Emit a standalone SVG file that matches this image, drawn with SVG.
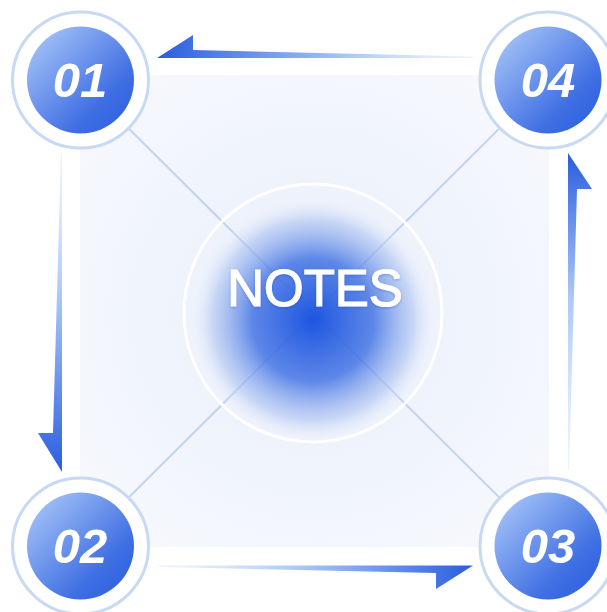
<svg xmlns="http://www.w3.org/2000/svg" width="607" height="612" viewBox="0 0 607 612">
<style>
.ring{fill:#ffffff;stroke:#c8d9f4;stroke-width:3}
.num{font-family:"Liberation Sans",Arial,sans-serif;font-weight:bold;font-style:italic;font-size:49px;fill:#ffffff;text-anchor:middle}
.diag{stroke:#c2d3f0;stroke-width:2;fill:none}
</style>
<defs>
<radialGradient id="panelG" cx="50%" cy="50%" r="60%">
<stop offset="0" stop-color="#e8eefa"/>
<stop offset="1" stop-color="#f6f8fd"/>
</radialGradient>
<linearGradient id="ballG" x1="0" y1="0" x2="1" y2="1">
<stop offset="0" stop-color="#b2cdfa"/>
<stop offset="0.7" stop-color="#3f6fe3"/>
<stop offset="1" stop-color="#2a5bde"/>
</linearGradient>
<radialGradient id="glowG" cx="313" cy="320" r="122" gradientUnits="userSpaceOnUse">
<stop offset="0" stop-color="#1c55df"/>
<stop offset="0.5" stop-color="#4474e4" stop-opacity="0.85"/>
<stop offset="0.82" stop-color="#a7bff0" stop-opacity="0.55"/>
<stop offset="1" stop-color="#e8eefa" stop-opacity="0"/>
</radialGradient>
<linearGradient id="arrTop" x1="157" y1="0" x2="473" y2="0" gradientUnits="userSpaceOnUse">
<stop offset="0" stop-color="#2a5ddf"/>
<stop offset="0.6" stop-color="#a9c6f7"/>
<stop offset="1" stop-color="#d6e4fb" stop-opacity="0.4"/>
</linearGradient>
<linearGradient id="arrLeft" x1="0" y1="153" x2="0" y2="472" gradientUnits="userSpaceOnUse">
<stop offset="0" stop-color="#d6e4fb" stop-opacity="0.4"/>
<stop offset="0.45" stop-color="#aac7f8"/>
<stop offset="1" stop-color="#2a5ddf"/>
</linearGradient>
<linearGradient id="arrRight" x1="0" y1="153" x2="0" y2="470" gradientUnits="userSpaceOnUse">
<stop offset="0" stop-color="#2a5ddf"/>
<stop offset="0.45" stop-color="#aac7f8"/>
<stop offset="1" stop-color="#d6e4fb" stop-opacity="0.4"/>
</linearGradient>
<linearGradient id="arrBot" x1="158" y1="0" x2="473" y2="0" gradientUnits="userSpaceOnUse">
<stop offset="0" stop-color="#d6e4fb" stop-opacity="0.4"/>
<stop offset="0.45" stop-color="#aac7f8"/>
<stop offset="1" stop-color="#2a5ddf"/>
</linearGradient>
<filter id="ts" x="-10%" y="-20%" width="120%" height="140%">
<feDropShadow dx="0" dy="1" stdDeviation="1.2" flood-color="#1a3f9a" flood-opacity="0.35"/>
</filter>
</defs>
<rect width="607" height="612" fill="#ffffff"/>
<rect x="80" y="75" width="469" height="472" fill="url(#panelG)"/>
<g id="connectors">
<line class="diag" x1="80" y1="80" x2="548" y2="546"/>
<line class="diag" x1="548" y1="80" x2="80" y2="546"/>
<polygon points="157,58 193,35 193,50 473,56.5 473,58" fill="url(#arrTop)"/>
<polygon points="61,153 62,153 62,472 38,433 53,433" fill="url(#arrLeft)"/>
<polygon points="568,153 592,189 577,189 569,470 568,470" fill="url(#arrRight)"/>
<polygon points="158,565.5 473,565.5 436,589 436,573 158,567" fill="url(#arrBot)"/>
</g>
<g id="center">
<circle cx="313" cy="320" r="122" fill="url(#glowG)"/>
<circle cx="313" cy="313" r="129" fill="none" stroke="#ffffff" stroke-width="3"/>
<text x="315" y="306" font-family="'Liberation Sans',Arial,sans-serif" font-size="51" fill="#ffffff" stroke="#ffffff" stroke-width="1.2" text-anchor="middle" filter="url(#ts)">NOTES</text>
</g>
<g id="n01">
<circle class="ring" cx="80.5" cy="80" r="68"/>
<circle cx="80.5" cy="80" r="53.5" fill="url(#ballG)"/>
<text class="num" x="80" y="97">01</text>
</g>
<g id="n02">
<circle class="ring" cx="80.5" cy="546" r="68"/>
<circle cx="80.5" cy="546" r="53.5" fill="url(#ballG)"/>
<text class="num" x="80" y="563">02</text>
</g>
<g id="n03">
<circle class="ring" cx="548" cy="546" r="68"/>
<circle cx="548" cy="546" r="53.5" fill="url(#ballG)"/>
<text class="num" x="548" y="563">03</text>
</g>
<g id="n04">
<circle class="ring" cx="548" cy="80" r="68"/>
<circle cx="548" cy="80" r="53.5" fill="url(#ballG)"/>
<text class="num" x="548" y="97">04</text>
</g>
</svg>
